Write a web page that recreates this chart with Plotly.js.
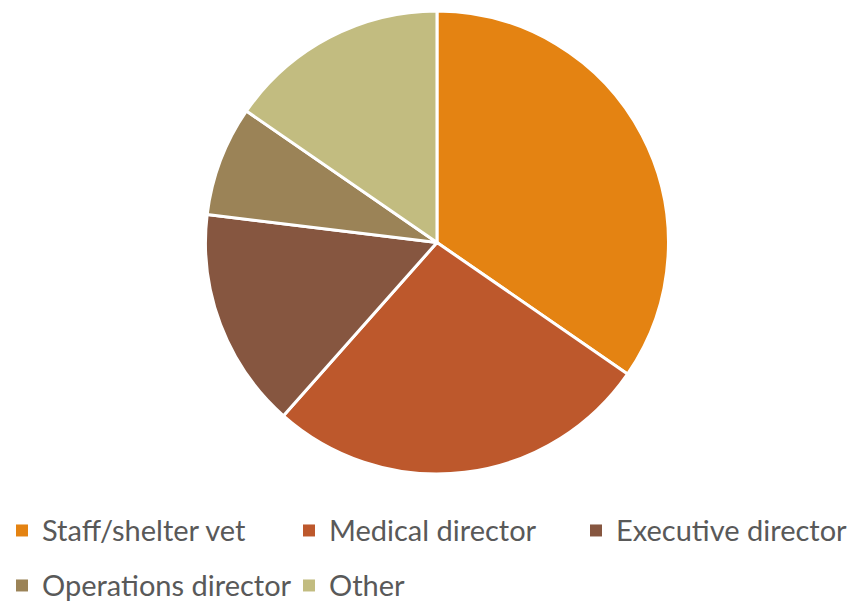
<!DOCTYPE html>
<html>
<head>
<meta charset="utf-8">
<script src="https://cdn.plot.ly/plotly-3.0.1.min.js"></script>
<style>html,body{margin:0;padding:0;background:#fff;}#chart{width:858px;height:602px;}</style>
</head>
<body>
<div id="chart"></div>
<script>
const categories = ["Staff/shelter vet", "Medical director", "Executive director", "Operations director", "Other"];
const counts = [9, 7, 4, 2, 4];
const colors = ["#E48312", "#BD582C", "#865640", "#9B8357", "#C2BC80"];

const legendLabels = categories.map(c => '<span style="font-size:29px;baseline-shift:5.5px">' + c + '</span>');

const pieDomain = {x: [0.0186, 1], y: [0.2126, 0.9817]};

const data = [
  {
    // base layer: supplies the legend swatches (no outline)
    type: 'pie',
    labels: legendLabels,
    values: counts,
    sort: false,
    direction: 'clockwise',
    rotation: 0,
    textinfo: 'none',
    hoverinfo: 'skip',
    marker: {colors: colors, line: {width: 0}},
    domain: pieDomain
  },
  {
    // top layer: same slices with white separators
    type: 'pie',
    labels: legendLabels,
    values: counts,
    sort: false,
    direction: 'clockwise',
    rotation: 0,
    textinfo: 'none',
    hoverinfo: 'skip',
    showlegend: false,
    marker: {colors: colors, line: {color: '#ffffff', width: 3}},
    domain: pieDomain
  }
];

const layout = {
  width: 858, height: 602,
  margin: {l: 0, r: 0, t: 0, b: 0, autoexpand: false},
  paper_bgcolor: '#ffffff',
  showlegend: true,
  legend: {
    orientation: 'h',
    x: 0.0023, xanchor: 'left',
    y: 0.1728, yanchor: 'top',
    font: {family: 'Lato, sans-serif', size: 40, color: '#595959'},
    entrywidth: 242, entrywidthmode: 'pixels',
    itemclick: false, itemdoubleclick: false
  }
};

Plotly.newPlot('chart', data, layout, {staticPlot: true});
</script>
</body>
</html>
